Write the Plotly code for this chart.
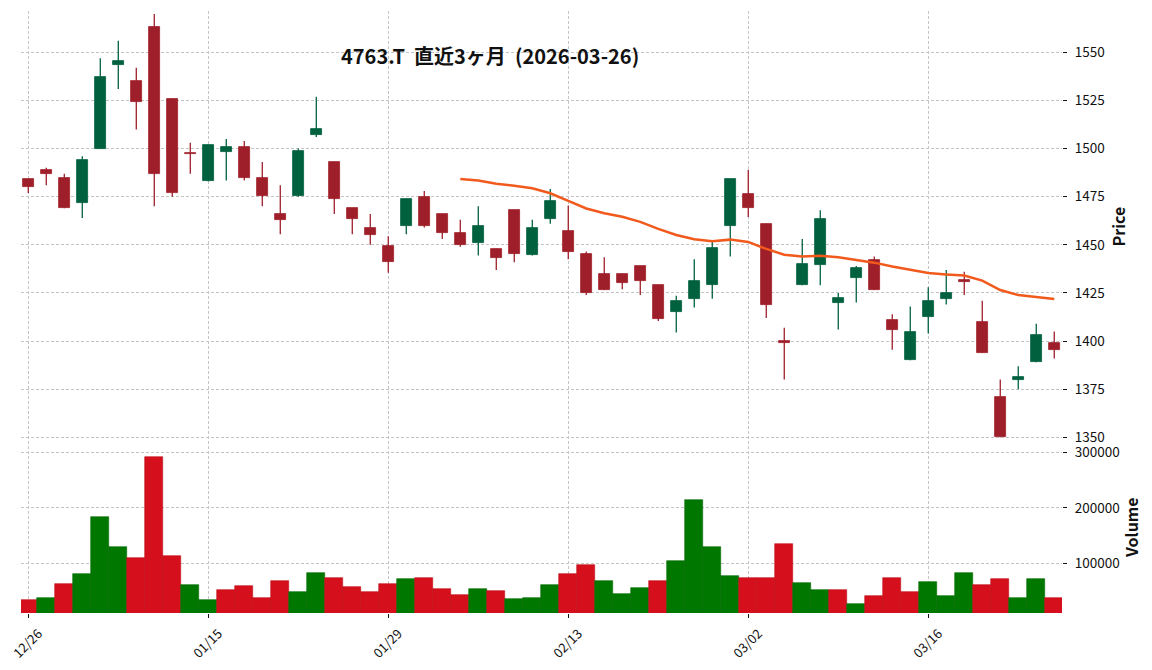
import pandas as pd
import plotly.graph_objects as go

# ---------------- data ----------------
dates = [
    "2025-12-26", "2025-12-29", "2025-12-30", "2026-01-05", "2026-01-06", "2026-01-07",
    "2026-01-08", "2026-01-09", "2026-01-13", "2026-01-14", "2026-01-15", "2026-01-16",
    "2026-01-19", "2026-01-20", "2026-01-21", "2026-01-22", "2026-01-23", "2026-01-26",
    "2026-01-27", "2026-01-28", "2026-01-29", "2026-01-30", "2026-02-02", "2026-02-03",
    "2026-02-04", "2026-02-05", "2026-02-06", "2026-02-09", "2026-02-10", "2026-02-12",
    "2026-02-13", "2026-02-16", "2026-02-17", "2026-02-18", "2026-02-19", "2026-02-20",
    "2026-02-24", "2026-02-25", "2026-02-26", "2026-02-27", "2026-03-02", "2026-03-03",
    "2026-03-04", "2026-03-05", "2026-03-06", "2026-03-09", "2026-03-10", "2026-03-11",
    "2026-03-12", "2026-03-13", "2026-03-16", "2026-03-17", "2026-03-18", "2026-03-19",
    "2026-03-23", "2026-03-24", "2026-03-25", "2026-03-26",
]
opens = [
    1484, 1489, 1485, 1472, 1500, 1543.5, 1535, 1563, 1526, 1497.5,
    1483, 1498, 1501, 1485, 1466, 1475.5, 1507, 1493, 1469, 1459,
    1449.5, 1460, 1475, 1466, 1456, 1451, 1448, 1468, 1444.5, 1463.5,
    1457, 1445.5, 1435, 1435, 1439, 1429, 1415, 1422, 1429, 1460,
    1476.5, 1461, 1400, 1429, 1439.5, 1420, 1433, 1442, 1411, 1390,
    1412.5, 1422, 1432, 1410, 1371, 1380, 1389, 1399,
]
highs = [
    1484, 1490, 1487, 1496, 1547, 1556, 1542, 1570, 1526, 1503,
    1502, 1505, 1504, 1493, 1481, 1500, 1527, 1493, 1469, 1466,
    1454.5, 1474, 1478, 1466, 1463, 1470, 1448, 1468, 1463, 1479,
    1470.5, 1446.5, 1443.5, 1435, 1439, 1429, 1423.5, 1442.5, 1452.5, 1484,
    1489, 1461, 1407, 1453, 1468, 1425, 1439, 1444, 1414, 1418,
    1428, 1437, 1436, 1421, 1380, 1387, 1409, 1405,
]
lows = [
    1477, 1481, 1469, 1464, 1500, 1531, 1510, 1470, 1475, 1487,
    1483, 1483.5, 1483.5, 1470, 1455.5, 1475, 1506, 1466, 1455.5, 1450,
    1435.5, 1455.5, 1459, 1453, 1449, 1444.5, 1437, 1441, 1444.5, 1461,
    1442.5, 1424, 1426.5, 1427, 1424, 1410.5, 1404.5, 1417.5, 1422, 1444,
    1464.5, 1412, 1380, 1429, 1429, 1406, 1420, 1426.5, 1395.5, 1390,
    1404, 1419, 1424, 1394, 1350, 1375, 1389, 1391,
]
closes = [
    1480, 1487, 1469, 1494, 1537, 1545.5, 1524, 1487, 1477, 1497,
    1502, 1501, 1485, 1475.5, 1463, 1499, 1510, 1474, 1463.5, 1455,
    1441, 1474, 1460, 1456, 1450, 1460, 1443, 1445.5, 1459, 1473,
    1446.5, 1425, 1426.5, 1430, 1431, 1411.5, 1421, 1431, 1448.5, 1484,
    1469, 1419, 1399, 1440, 1463.5, 1422.5, 1438, 1426.5, 1406, 1404.5,
    1421, 1425, 1430.5, 1394, 1350, 1381.5, 1403, 1395.5,
]
volumes = [
    33900, 37500, 62800, 80800, 183500, 129400, 109600, 291600, 113200, 61000,
    33900, 52000, 59200, 37500, 68200, 48400, 82600, 73600, 57400, 48400,
    62800, 71800, 73600, 53800, 42900, 53800, 50100, 35700, 37500, 61000,
    80800, 97000, 68200, 44700, 55600, 68200, 104200, 214100, 129400, 77200,
    73600, 73600, 134800, 64600, 52000, 52000, 26700, 41100, 73600, 48400,
    66400, 41100, 82600, 61000, 71800, 37500, 71800, 37500,
]
price_ticks = [1350, 1375, 1400, 1425, 1450, 1475, 1500, 1525, 1550]
volume_ticks = [100000, 200000, 300000]
date_tick_idx = [0, 10, 20, 30, 40, 50]
ma_window = 25
title_text = "4763.T\u00a0 直近3ヶ月\u00a0 (2026-03-26)"

# ---------------- styling ----------------
FONT = "Noto Sans CJK JP, Noto Sans, sans-serif"
UP_C = "#00613f"
DN_C = "#9e1f2a"
VUP_C = "#007800"
VDN_C = "#d50f1c"
MA_C = "#f15a1c"
GRID_C = "#c4c4c4"

idx = list(range(len(dates)))
ma = pd.Series(closes, dtype=float).rolling(ma_window).mean()
tick_text = [pd.Timestamp(dates[i]).strftime("%m/%d") for i in date_tick_idx]

fig = go.Figure()

for sel, col in ((lambda i: closes[i] >= opens[i], UP_C), (lambda i: closes[i] < opens[i], DN_C)):
    ids = [i for i in idx if sel(i)]
    wx, wy = [], []
    for i in ids:
        wx += [i, i, None]
        wy += [lows[i], highs[i], None]
    fig.add_trace(go.Scatter(x=wx, y=wy, mode="lines", line=dict(color=col, width=1.3),
                             xaxis="x", yaxis="y", hoverinfo="skip", showlegend=False))
    fig.add_trace(go.Bar(
        x=ids,
        y=[max(abs(closes[i] - opens[i]), 0.5) for i in ids],
        base=[min(opens[i], closes[i]) for i in ids],
        width=0.61, marker=dict(color=col, line=dict(color=col, width=0.8)),
        xaxis="x", yaxis="y", showlegend=False))

fig.add_trace(go.Scatter(x=idx, y=ma, mode="lines", line=dict(color=MA_C, width=2.5),
                         xaxis="x", yaxis="y", showlegend=False))

vcols = []
for i in idx:
    ref = opens[i] if i == 0 else closes[i - 1]
    vcols.append(VUP_C if closes[i] >= ref else VDN_C)
vline = ["#006800" if c == VUP_C else "#c00d18" for c in vcols]
fig.add_trace(go.Bar(x=idx, y=volumes, width=1.0,
                     marker=dict(color=vcols, line=dict(color=vline, width=0.6)),
                     xaxis="x2", yaxis="y2", showlegend=False))

# ---------------- layout ----------------
# page body has an 8px default margin, so the figure is placed at (8, 8)
OFF = 8
W, H = 1152 - OFF, 670 - OFF
ML, MT = 21 - OFF, 11 - OFF
MR = W - (1062 - OFF)
MB = H - (613 - OFF)
PW, PH = W - ML - MR, H - MT - MB


def px_x(px):
    return (px - OFF - ML) / PW


def px_y(py):
    return (613 - py) / PH


split = (613 - 441) / PH
xr = [-0.405, 57.43]

axis_common = dict(showline=False, zeroline=False, gridcolor=GRID_C, gridwidth=0.8,
                   griddash="3px,2px")
fig.update_layout(
    width=W, height=H, autosize=False,
    margin=dict(l=ML, r=MR, t=MT, b=MB, pad=0),
    paper_bgcolor="white", plot_bgcolor="white",
    font=dict(family=FONT, size=13, color="#111111"),
    bargap=0, barmode="overlay",
    xaxis=dict(domain=[0, 1], range=xr, anchor="y", tickvals=date_tick_idx,
               showticklabels=False, ticks="", showgrid=True, **axis_common),
    xaxis2=dict(domain=[0, 1], range=xr, anchor="y2", matches="x", tickvals=date_tick_idx,
                showticklabels=False, ticks="outside", ticklen=4, tickwidth=1,
                tickcolor="#111111", showgrid=True, **axis_common),
    yaxis=dict(domain=[split, 1], range=[1348.1, 1571.5], side="right", anchor="x",
               tickvals=price_ticks, ticks="outside", ticklen=4, tickwidth=1,
               tickcolor="#111111", ticklabelstandoff=5,
               tickfont=dict(family=FONT, size=13.5), showgrid=True, **axis_common),
    yaxis2=dict(domain=[0, split], range=[11000, 320500], side="right", anchor="x2",
                tickvals=volume_ticks, tickformat="d", ticks="outside", ticklen=4,
                tickwidth=1, tickcolor="#111111", ticklabelstandoff=5,
                tickfont=dict(family=FONT, size=13.5), showgrid=True, **axis_common),
)

ann = []
for i, t in zip(date_tick_idx, tick_text):
    ann.append(dict(x=i - 0.05, xref="x2", y=px_y(642.5), yref="paper", text=t,
                    textangle=-45, showarrow=False, xanchor="center", yanchor="middle",
                    font=dict(family=FONT, size=13, color="#111111")))
ann.append(dict(x=px_x(490), y=px_y(56), xref="paper", yref="paper",
                text=title_text, showarrow=False, xanchor="center", yanchor="middle",
                font=dict(family=FONT, size=20, color="#111111", weight="bold")))
ann.append(dict(x=px_x(1117), y=px_y(226.5), xref="paper", yref="paper",
                text="Price", textangle=-90, showarrow=False, xanchor="center",
                yanchor="middle", font=dict(family=FONT, size=16, color="#111111", weight="bold")))
ann.append(dict(x=px_x(1131), y=px_y(528), xref="paper", yref="paper",
                text="Volume", textangle=-90, showarrow=False, xanchor="center",
                yanchor="middle", font=dict(family=FONT, size=16, color="#111111", weight="bold")))
fig.update_layout(annotations=ann)

fig.write_html("out.html")
